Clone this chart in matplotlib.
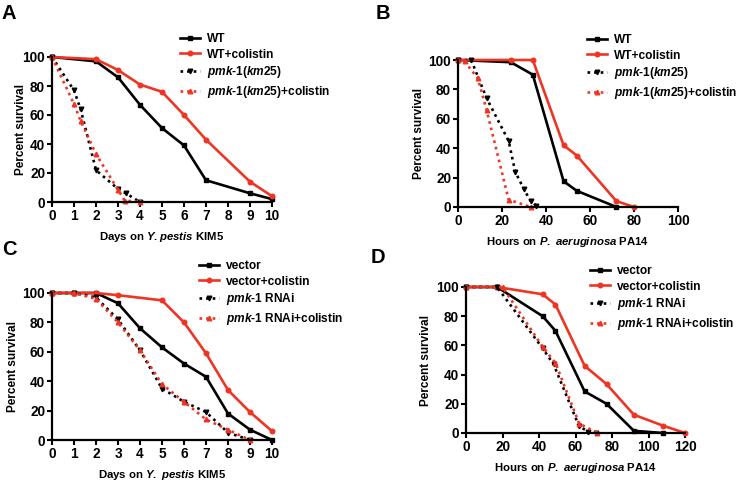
import matplotlib
matplotlib.use("Agg")
import matplotlib.pyplot as plt

plt.rcParams["font.family"] = ["Liberation Sans", "DejaVu Sans"]
plt.rcParams["font.weight"] = "bold"
plt.rcParams["axes.labelweight"] = "bold"
plt.rcParams["mathtext.fontset"] = "custom"
plt.rcParams["mathtext.it"] = "Liberation Sans:italic:bold"
plt.rcParams["mathtext.rm"] = "Liberation Sans:bold"
plt.rcParams["mathtext.bf"] = "Liberation Sans:bold"

RED = "#ee3524"
BLACK = "#000000"

# panel A: days on Y. pestis
a_wt_x = [0, 2, 3, 4, 5, 6, 7, 9, 10]
a_wt_y = [100, 97, 86, 67, 51, 39, 15, 6, 2]
a_wtc_x = [0, 2, 3, 4, 5, 6, 7, 9, 10]
a_wtc_y = [100, 98.5, 91, 81, 76, 60, 43, 14, 4]
a_pmk_x = [0, 1, 1.3, 2, 3, 3.35, 4]
a_pmk_y = [100, 77, 64, 22, 9, 6, 0]
a_pmkc_x = [0, 1, 1.3, 2, 3, 3.3, 4]
a_pmkc_y = [100, 67.5, 56, 33, 8.5, 1, 0]

# panel B: hours on P. aeruginosa
b_wt_x = [0, 24, 34, 48, 54, 72]
b_wt_y = [100, 98.5, 90, 17.5, 11, 0]
b_wtc_x = [0, 24, 34, 48, 54, 72, 80]
b_wtc_y = [100, 100, 100, 42, 35, 4, 0]
b_pmk_x = [0, 6, 13, 23, 26, 30, 33, 35.5]
b_pmk_y = [100, 100, 74, 45, 24, 12, 4, 1]
b_pmkc_x = [0, 3, 9, 13, 23, 33]
b_pmkc_y = [100, 99, 87.5, 66, 5, 0]

# panel C: days on Y. pestis, RNAi
c_vec_x = [0, 1, 2, 3, 4, 5, 6, 7, 8, 9, 10]
c_vec_y = [100, 100, 100, 93, 76, 63, 52, 43, 18, 7, 0]
c_vecc_x = [0, 1, 2, 3, 5, 6, 7, 8, 9, 10]
c_vecc_y = [100, 100, 100, 98.5, 95, 80, 59, 34, 19, 6]
c_pmk_x = [0, 1, 2, 3, 4, 5, 6, 7, 8, 9]
c_pmk_y = [100, 100, 97, 82, 61, 35, 26, 19, 5, 0]
c_pmkc_x = [0, 1, 2, 3, 4, 5, 6, 7, 8, 9]
c_pmkc_y = [100, 100, 96, 80, 61, 38, 26, 14, 7, 0]

# panel D: hours on P. aeruginosa, RNAi
d_vec_x = [0, 17, 42, 49, 65, 77, 92, 108]
d_vec_y = [100, 100, 80, 70, 28.5, 20, 1.5, 0]
d_vecc_x = [0, 17, 42, 49, 65, 77, 92, 108, 120]
d_vecc_y = [100, 100, 95, 88, 46, 33.5, 12.5, 5, 0]
d_pmk_x = [0, 17, 42, 48, 62, 67, 71]
d_pmk_y = [100, 100, 58, 47, 4.5, 1, 0]
d_pmkc_x = [0, 20, 42, 49, 62, 72]
d_pmkc_y = [100, 100, 59, 48, 6.5, 0]

km25_labels = ["WT", "WT+colistin", r"$\mathit{pmk}$-$\mathit{1(km25)}$",
               r"$\mathit{pmk}$-$\mathit{1(km25)}$+colistin"]
rnai_labels = ["vector", "vector+colistin", r"$\mathit{pmk}$-$\mathit{1}$ RNAi",
               r"$\mathit{pmk}$-$\mathit{1}$ RNAi+colistin"]

DOT = (0, (1, 1.5))


def survival_panel(rect, series, labels, xmax, xstep, xlabel, legend_at, ylab_x):
    ax = fig.add_axes(rect)
    styles = [
        dict(color=BLACK, ls="-", marker="s", lw=1.9),
        dict(color=RED, ls="-", marker="o", lw=1.9),
        dict(color=BLACK, ls=DOT, marker="v", lw=1.9),
        dict(color=RED, ls=DOT, marker="^", lw=1.9),
    ]
    for (x, y), st, lab in zip(series, styles, labels):
        ax.plot(x, y, ms=3.3, clip_on=False, label=lab, **st)
    ax.set_xlim(0, xmax)
    ax.set_ylim(0, 100)
    ax.set_xticks(range(0, xmax + 1, xstep))
    ax.set_yticks(range(0, 101, 20))
    for s in ["top", "right"]:
        ax.spines[s].set_visible(False)
    for s in ["left", "bottom"]:
        ax.spines[s].set_linewidth(1.6)
    ax.tick_params(width=1.5, length=3.5, labelsize=9.8, pad=1.5)
    ax.set_xlabel(xlabel, fontsize=8.2, labelpad=5)
    ax.set_ylabel("Percent survival", fontsize=8.5)
    ax.yaxis.set_label_coords(ylab_x, 0.5)
    ax.legend(loc="upper left", bbox_to_anchor=legend_at,
              bbox_transform=fig.transFigure, frameon=False,
              fontsize=8.6, handlelength=1.67, handletextpad=0.55,
              labelspacing=0.3, borderpad=0, borderaxespad=0)
    return ax


fig = plt.figure(figsize=(7.38, 4.84), dpi=100)

survival_panel([52 / 738, 282 / 484, 220 / 738, 145 / 484],
               [(a_wt_x, a_wt_y), (a_wtc_x, a_wtc_y),
                (a_pmk_x, a_pmk_y), (a_pmkc_x, a_pmkc_y)],
               km25_labels, 10, 1, r"Days on $\mathit{Y.pestis}$ KIM5",
               (180 / 738, 1 - 33 / 484), -0.114)

survival_panel([458 / 738, 277 / 484, 220 / 738, 147 / 484],
               [(b_wt_x, b_wt_y), (b_wtc_x, b_wtc_y),
                (b_pmk_x, b_pmk_y), (b_pmkc_x, b_pmkc_y)],
               km25_labels, 100, 20, r"Hours on $\mathit{P.}$ $\mathit{aeruginosa}$ PA14",
               (587 / 738, 1 - 34 / 484), -0.15)

survival_panel([52 / 738, 44 / 484, 220 / 738, 147 / 484],
               [(c_vec_x, c_vec_y), (c_vecc_x, c_vecc_y),
                (c_pmk_x, c_pmk_y), (c_pmkc_x, c_pmkc_y)],
               rnai_labels, 10, 1, r"Days on $\mathit{Y.}$ $\mathit{pestis}$ KIM5",
               (199 / 738, 1 - 260 / 484), -0.151)

survival_panel([466 / 738, 51 / 484, 219 / 738, 146 / 484],
               [(d_vec_x, d_vec_y), (d_vecc_x, d_vecc_y),
                (d_pmk_x, d_pmk_y), (d_pmkc_x, d_pmkc_y)],
               rnai_labels, 120, 20, r"Hours on $\mathit{P.}$ $\mathit{aeruginosa}$ PA14",
               (590 / 738, 1 - 265 / 484), -0.155)

for letter, (px, py) in zip("ABCD", [(2, 4), (376, 4), (2, 240), (371, 248)]):
    fig.text(px / 738, 1 - py / 484, letter, fontsize=14.5, fontweight="bold",
             ha="left", va="top")

fig.savefig("out.png", dpi=100)
